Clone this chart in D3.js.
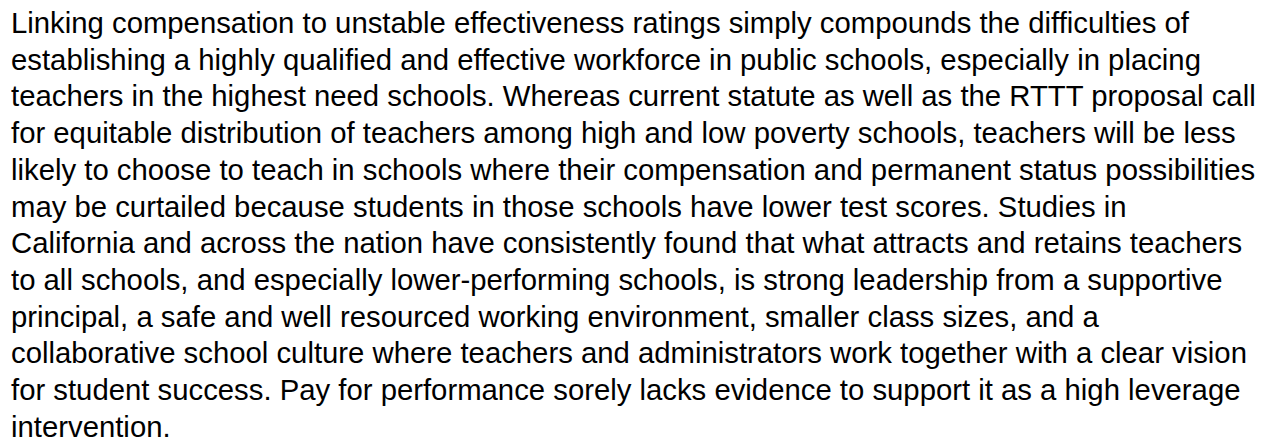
<!DOCTYPE html>
<html>
<head>
<meta charset="utf-8">
<script src="https://cdn.jsdelivr.net/npm/d3@7"></script>
<style>
  html, body { margin: 0; padding: 0; background: #fff; }
</style>
</head>
<body>
<svg class="viz" width="1262" height="442"></svg>
<script>
// Text lines of the paragraph, as wrapped in the picture
var lines = [
  "Linking compensation to unstable effectiveness ratings simply compounds the difficulties of",
  "establishing a highly qualified and effective workforce in public schools, especially in placing",
  "teachers in the highest need schools. Whereas current statute as well as the RTTT proposal call",
  "for equitable distribution of teachers among high and low poverty schools, teachers will be less",
  "likely to choose to teach in schools where their compensation and permanent status possibilities",
  "may be curtailed because students in those schools have lower test scores. Studies in",
  "California and across the nation have consistently found that what attracts and retains teachers",
  "to all schools, and especially lower-performing schools, is strong leadership from a supportive",
  "principal, a safe and well resourced working environment, smaller class sizes, and a",
  "collaborative school culture where teachers and administrators work together with a clear vision",
  "for student success. Pay for performance sorely lacks evidence to support it as a high leverage",
  "intervention."
];

var svg = d3.select(".viz"),
    margin = {top: 33, left: 11},
    lineHeight = 36.7;

var y = d3.scaleLinear()
    .domain([0, lines.length - 1])
    .range([margin.top, margin.top + (lines.length - 1) * lineHeight]);

svg.append("g")
    .selectAll("text")
    .data(lines)
    .enter().append("text")
      .attr("x", margin.left)
      .attr("y", function(d, i) { return y(i); })
      .attr("font-family", "'Liberation Sans', Arial, sans-serif")
      .attr("font-size", "29.3px")
      .attr("fill", "#000")
      .text(function(d) { return d; });
</script>
</body>
</html>
